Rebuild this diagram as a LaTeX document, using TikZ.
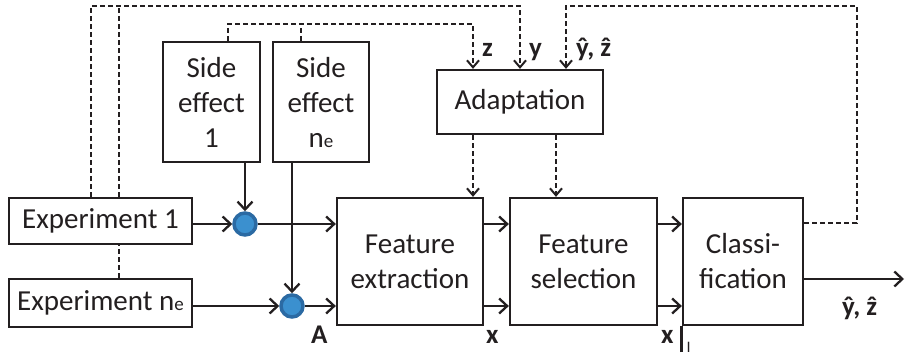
\documentclass[tikz,border=0pt]{standalone}
\usepackage{fontspec}
\setmainfont{Carlito}
\usetikzlibrary{arrows.meta}

\definecolor{ink}{HTML}{231F20}
\definecolor{dotfill}{HTML}{3B90CF}
\definecolor{dotedge}{HTML}{2B6AA3}

\newcommand\smalle{{\fontsize{19}{19}\selectfont e}}

\tikzset{
  blk/.style={draw=ink, line width=2.3pt, fill=white, align=center,
    font=\fontsize{29}{35}\selectfont, text=ink, inner sep=0pt},
  flow/.style={draw=ink, line width=2.3pt,
    -{Straight Barb[length=8pt,width=15pt,line width=2.3pt]}},
  ctrl/.style={draw=ink, line width=2pt, dash pattern=on 5pt off 3pt},
  ctrlarrow/.style={ctrl,
    -{Straight Barb[length=7pt,width=12pt,line width=2pt]}},
  dot/.style={circle, fill=dotfill, draw=dotedge, line width=3.5pt,
    minimum size=22pt, inner sep=0pt},
  lbl/.style={font=\fontsize{27}{27}\selectfont\bfseries, text=ink,
    inner sep=0pt, anchor=base west},
}

\begin{document}
\begin{tikzpicture}[x=1pt,y=-1pt]
\useasboundingbox (0,0) rectangle (905,358);

% blocks
\node[blk, minimum width=183pt, minimum height=46pt] (exp1) at (100.5,221) {Experiment 1};
\node[blk, minimum width=183pt, minimum height=48pt] (expn) at (100.5,303) {Experiment n\smalle};
\node[blk, minimum width=97pt, minimum height=120pt] (se1) at (211.5,102) {Side\\effect\\1};
\node[blk, minimum width=96pt, minimum height=120pt] (sen) at (321,102) {Side\\effect\\n\smalle};
\node[blk, minimum width=166pt, minimum height=64pt] (adapt) at (520,102) {Adaptation};
\node[blk, minimum width=146pt, minimum height=127pt] (fe) at (410,261.5) {Feature\\extraction};
\node[blk, minimum width=147pt, minimum height=127pt] (fs) at (583.5,261.5) {Feature\\selection};
\node[blk, minimum width=120pt, minimum height=127pt] (cl) at (743,261.5) {Classi-\\fication};

% summing points
\node[dot] (c1) at (245,224) {};
\node[dot] (c2) at (292,306) {};

% routing points of the control lines
\coordinate (oL) at (91,6);
\coordinate (iL) at (119,6);
\coordinate (yin) at (520,6);
\coordinate (zin) at (473,24);
\coordinate (s1t) at (228,24);
\coordinate (snt) at (301,24);
\coordinate (selin) at (556,0);
\coordinate (hatin) at (566,6);
\coordinate (fbY) at (0,223);
\coordinate (fbR) at (857,6);
\coordinate (out) at (904,279);

% signal flow
\draw[flow] (exp1.east |- c1) -- (c1);
\draw[flow] (expn.east |- c2) -- (c2);
\draw[flow] (se1.south -| c1) -- (c1);
\draw[flow] (sen.south -| c2) -- (c2);
\draw[flow] (c1) -- (fe.west |- c1);
\draw[flow] (c2) -- (fe.west |- c2);
\draw[flow] (fe.east |- c1) -- (fs.west |- c1);
\draw[flow] (fe.east |- c2) -- (fs.west |- c2);
\draw[flow] (fs.east |- c1) -- (cl.west |- c1);
\draw[flow] (fs.east |- c2) -- (cl.west |- c2);
\draw[flow] (cl.east |- out) -- (out);

% control / adaptation lines
\draw[ctrlarrow] (exp1.north -| oL) -- (oL) -| (adapt.north -| yin);
\draw[ctrl] (expn.north -| iL) -- (exp1.south -| iL);
\draw[ctrl] (exp1.north -| iL) -- (iL);
\draw[ctrlarrow] (se1.north -| s1t) -- (s1t) -| (adapt.north -| zin);
\draw[ctrl] (sen.north -| snt) -- (snt);
\draw[ctrlarrow] (adapt.south -| zin) -- (fe.north -| zin);
\draw[ctrlarrow] (adapt.south -| selin) -- (fs.north -| selin);
\draw[ctrlarrow] (cl.east |- fbY) -| (fbR) -| (adapt.north -| hatin);

% labels
\node[lbl] (lz) at (482,57) {z};
\node[lbl] (ly) at (529,57) {y};
\node[lbl] (lhat) at (576,57) {ŷ, ẑ};
\node[lbl] (lA) at (311,343) {A};
\node[lbl] (lx) at (486,343) {x};
\node[lbl] (lxI) at (661,343) {x\hspace{6pt}\rule[-9pt]{3pt}{26pt}\hspace{4pt}\raisebox{-9pt}{\fontsize{16}{16}\selectfont\mdseries I}};
\node[lbl] (lout) at (842,315) {ŷ, ẑ};
\end{tikzpicture}
\end{document}
